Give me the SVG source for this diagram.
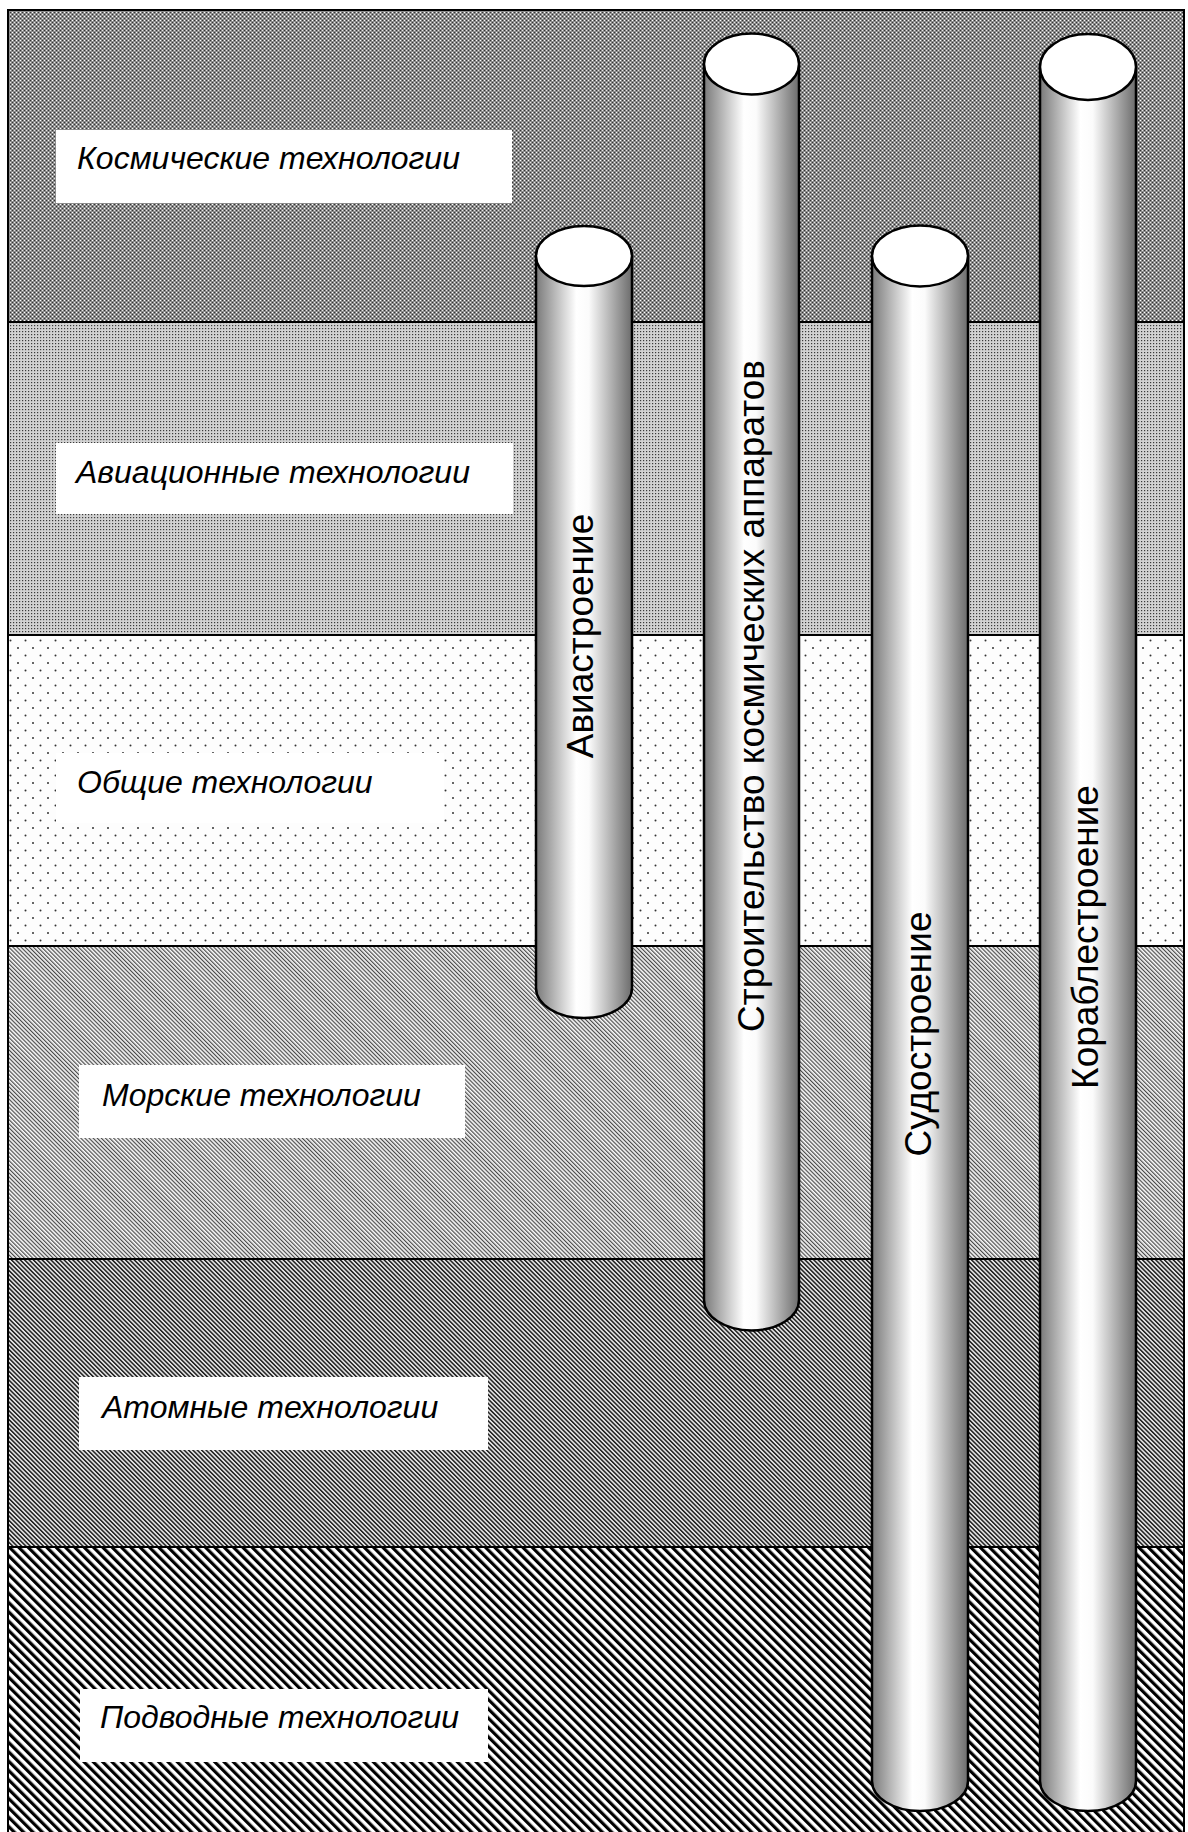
<svg xmlns="http://www.w3.org/2000/svg" width="1188" height="1832" viewBox="0 0 1188 1832">
<style>
.lbl{font-family:"Liberation Sans",Arial,sans-serif;font-style:italic;font-size:32px;fill:#000}
.cyl{font-family:"Liberation Sans",Arial,sans-serif;font-size:37px;fill:#000;text-anchor:middle}
.box{fill:#fff}
.body{fill:url(#cg);stroke:#000;stroke-width:2.5}
.cap{fill:#fff;stroke:#000;stroke-width:2.5}
.div{stroke:#000;stroke-width:2;fill:none}
</style>
<defs>
<linearGradient id="cg" x1="0" y1="0" x2="1" y2="0">
<stop offset="0" stop-color="#7a7a7a"/>
<stop offset="0.42" stop-color="#ffffff"/>
<stop offset="0.55" stop-color="#fbfbfb"/>
<stop offset="1" stop-color="#6c6c6c"/>
</linearGradient>
<pattern id="p1" width="4" height="4" patternUnits="userSpaceOnUse">
<rect width="4" height="4" fill="#8c8c8c"/>
<rect x="0" y="0" width="1" height="1" fill="#fff"/>
<rect x="2" y="2" width="1" height="1" fill="#e8e8e8"/>
<rect x="2" y="0" width="1" height="1" fill="#333"/>
<rect x="0" y="2" width="1" height="1" fill="#333"/>
</pattern>
<pattern id="p2" width="3" height="3" patternUnits="userSpaceOnUse">
<rect width="3" height="3" fill="#d2d2d2"/>
<rect x="1" y="1" width="1.2" height="1.2" fill="#3a3a3a"/>
</pattern>
<pattern id="p3" width="15" height="15" patternUnits="userSpaceOnUse">
<rect width="15" height="15" fill="#fdfdfd"/>
<circle cx="3" cy="3" r="1" fill="#333"/>
<circle cx="10.5" cy="10.5" r="1" fill="#333"/>
</pattern>
<pattern id="p4" width="2.9" height="2.9" patternUnits="userSpaceOnUse" patternTransform="rotate(-45)">
<rect width="2.9" height="2.9" fill="#fafafa"/>
<rect width="1.2" height="2.9" fill="#4a4a4a"/>
</pattern>
<pattern id="p5" width="3.1" height="3.1" patternUnits="userSpaceOnUse" patternTransform="rotate(-45)">
<rect width="3.1" height="3.1" fill="#e2e2e2"/>
<rect width="1.45" height="3.1" fill="#1c1c1c"/>
</pattern>
<pattern id="p6" width="6.6" height="6.6" patternUnits="userSpaceOnUse" patternTransform="rotate(-45)">
<rect width="6.6" height="6.6" fill="#fff"/>
<rect width="3.2" height="6.6" fill="#000"/>
</pattern>
</defs>

<g id="bands">
<rect x="8" y="10" width="1176" height="312" fill="url(#p1)"/>
<rect x="8" y="322" width="1176" height="313" fill="url(#p2)"/>
<rect x="8" y="635" width="1176" height="311" fill="url(#p3)"/>
<rect x="8" y="946" width="1176" height="313" fill="url(#p4)"/>
<rect x="8" y="1259" width="1176" height="288" fill="url(#p5)"/>
<rect x="8" y="1547" width="1176" height="290" fill="url(#p6)"/>
<path class="div" d="M8 322H1184M8 635H1184M8 946H1184M8 1259H1184M8 1547H1184"/>
<path class="div" d="M8 1834V10H1184V1834"/>
</g>

<g id="label-space">
<rect class="box" x="56" y="130" width="456" height="73"/>
<text class="lbl" x="77" y="169">Космические технологии</text>
</g>
<g id="label-aviation">
<rect class="box" x="56" y="443" width="457" height="71"/>
<text class="lbl" x="76" y="483">Авиационные технологии</text>
</g>
<g id="label-general">
<rect class="box" x="56" y="753" width="388" height="70"/>
<text class="lbl" x="77" y="793">Общие технологии</text>
</g>
<g id="label-marine">
<rect class="box" x="79" y="1065" width="386" height="73"/>
<text class="lbl" x="102" y="1106">Морские технологии</text>
</g>
<g id="label-nuclear">
<rect class="box" x="79" y="1377" width="409" height="73"/>
<text class="lbl" x="102" y="1418">Атомные технологии</text>
</g>
<g id="label-underwater">
<rect class="box" x="80" y="1689" width="408" height="73"/>
<text class="lbl" x="100" y="1728">Подводные технологии</text>
</g>

<g id="cyl-aviastroenie">
<path class="body" d="M536 256V988A48 30 0 0 0 632 988V256Z"/>
<ellipse class="cap" cx="584" cy="256" rx="48" ry="30"/>
<text class="cyl" transform="translate(580 636) rotate(-90)" y="13">Авиастроение</text>
</g>
<g id="cyl-space">
<path class="body" d="M704 64V1300A47.5 30.5 0 0 0 799 1300V64Z"/>
<ellipse class="cap" cx="751.5" cy="64" rx="47.5" ry="30.5"/>
<text class="cyl" transform="translate(751 696) rotate(-90)" y="13">Строительство космических аппаратов</text>
</g>
<g id="cyl-sudostroenie">
<path class="body" d="M872 256V1781A48 30 0 0 0 968 1781V256Z"/>
<ellipse class="cap" cx="920" cy="256" rx="48" ry="30.5"/>
<text class="cyl" transform="translate(918 1034) rotate(-90)" y="13">Судостроение</text>
</g>
<g id="cyl-korablestroenie">
<path class="body" d="M1040 67V1781A48 30 0 0 0 1136 1781V67Z"/>
<ellipse class="cap" cx="1088" cy="67" rx="48" ry="33"/>
<text class="cyl" transform="translate(1085 937) rotate(-90)" y="13">Кораблестроение</text>
</g>
</svg>
